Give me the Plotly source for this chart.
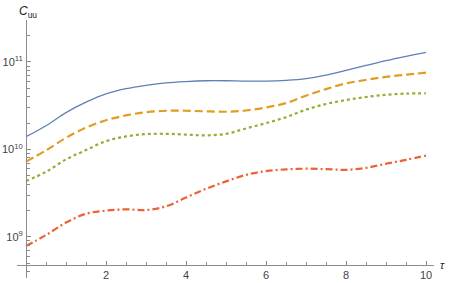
import plotly.graph_objects as go

tau = [0, 0.5, 1, 1.5, 2, 2.5, 3, 3.5, 4, 4.5, 5, 5.5, 6, 6.5, 7, 7.5, 8, 8.5, 9, 9.5, 10]

c_blue = [1.40e10, 1.87e10, 2.64e10, 3.47e10, 4.32e10, 4.95e10, 5.41e10, 5.78e10, 5.98e10, 6.10e10,
          6.10e10, 6.04e10, 6.04e10, 6.17e10, 6.46e10, 7.08e10, 8.04e10, 9.12e10, 1.035e11, 1.16e11, 1.29e11]
c_orange = [7.26e9, 9.77e9, 1.36e10, 1.78e10, 2.16e10, 2.45e10, 2.67e10, 2.77e10, 2.77e10, 2.73e10,
            2.70e10, 2.79e10, 3.02e10, 3.39e10, 4.12e10, 4.90e10, 5.69e10, 6.24e10, 6.76e10, 7.16e10, 7.55e10]
c_green = [4.37e9, 5.55e9, 7.70e9, 9.85e9, 1.245e10, 1.41e10, 1.50e10, 1.51e10, 1.48e10, 1.45e10,
           1.51e10, 1.74e10, 2.00e10, 2.34e10, 2.85e10, 3.31e10, 3.67e10, 3.98e10, 4.22e10, 4.35e10, 4.39e10]
c_red = [7.89e8, 1.05e9, 1.46e9, 1.84e9, 2.00e9, 2.07e9, 2.03e9, 2.24e9, 2.82e9, 3.55e9,
         4.32e9, 5.13e9, 5.65e9, 5.92e9, 6.03e9, 5.96e9, 5.86e9, 6.17e9, 6.87e9, 7.62e9, 8.51e9]

x_tickvals = [2, 4, 6, 8, 10]
x_ticktext = ["2", "4", "6", "8", "10"]
x_minor = [0.5, 1, 1.5, 2.5, 3, 3.5, 4.5, 5, 5.5, 6.5, 7, 7.5, 8.5, 9, 9.5]
y_tickvals = [1e9, 1e10, 1e11]
y_ticktext = ["10<sup>9</sup>", "10<sup>10</sup>", "10<sup>11</sup>"]
y_minor = [m * 10 ** e for e in (8, 9, 10, 11) for m in range(2, 10)]

series = [
    (c_blue, "#5E81B5", 1.3, "solid"),
    (c_orange, "#E19C24", 2.2, "8px,4px"),
    (c_green, "#8FB032", 2.2, "3px,3px"),
    (c_red, "#EB6235", 2.2, "7px,3px,2px,3px"),
]

fig = go.Figure()
for vals, col, w, dash in series:
    fig.add_trace(go.Scatter(x=tau, y=vals, mode="lines",
                             line=dict(color=col, width=w, dash=dash, shape="spline", smoothing=1.0),
                             showlegend=False, hoverinfo="skip"))

xr = [-0.225, 10.2]
yr = [8.531, 11.48]
x_axis_at = 8.68
y_axis_at = 0.0

axis_col = "#8c8c8c"
font = dict(family="Liberation Sans, Arial, sans-serif", size=11, color="#444444")

fig.update_layout(
    width=450, height=283,
    margin=dict(l=17, r=16, t=20, b=5, autoexpand=False),
    paper_bgcolor="white", plot_bgcolor="white",
    font=font,
    xaxis=dict(range=xr, showgrid=False, zeroline=False, showline=True, linecolor=axis_col, linewidth=1,
               anchor="free", position=(x_axis_at - yr[0]) / (yr[1] - yr[0]), automargin=False,
               tickmode="array", tickvals=x_tickvals, ticktext=x_ticktext,
               ticks="inside", ticklen=4, tickcolor=axis_col, ticklabelstandoff=0,
               minor=dict(tickmode="array", tickvals=x_minor, ticks="inside", ticklen=2.5, tickcolor=axis_col)),
    yaxis=dict(type="log", range=yr, showgrid=False, zeroline=False, showline=True, linecolor=axis_col, linewidth=1,
               anchor="free", position=(y_axis_at - xr[0]) / (xr[1] - xr[0]), automargin=False,
               tickmode="array", tickvals=y_tickvals, ticktext=y_ticktext,
               ticks="inside", ticklen=4, tickcolor=axis_col, ticklabelstandoff=1,
               minor=dict(tickmode="array", tickvals=y_minor, ticks="inside", ticklen=2.5, tickcolor=axis_col)),
    annotations=[
        dict(text="<i>C</i><sub>uu</sub>", xref="paper", yref="paper", x=0.0, y=1.0,
             xanchor="left", yanchor="bottom", showarrow=False, font=dict(size=12, color="#222222"),
             yshift=-2),
        dict(text="<i>τ</i>", xref="paper", yref="paper", x=1.0,
             y=(x_axis_at - yr[0]) / (yr[1] - yr[0]), xanchor="left", yanchor="middle",
             showarrow=False, font=dict(size=11, color="#222222"), xshift=4),
    ],
)

fig.write_html("out.html", config={"displayModeBar": False},
               post_script="document.body.style.margin='0';document.body.style.overflow='hidden';")
